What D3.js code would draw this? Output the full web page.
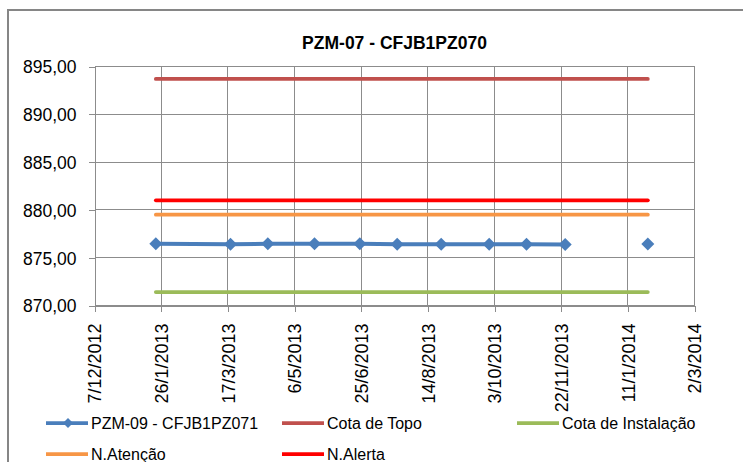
<!DOCTYPE html>
<html>
<head>
<meta charset="utf-8">
<script src="https://cdn.jsdelivr.net/npm/d3@7"></script>
<style>
  html, body { margin: 0; padding: 0; background: #fff; }
  svg { display: block; font-family: "Liberation Sans", Arial, sans-serif; }
</style>
</head>
<body>
<div id="chart"></div>
<script>
// readings of PZM-09 (null = missing reading, breaks the line)
const readingDates = ["2013-01-22", "2013-03-19", "2013-04-16", "2013-05-21", "2013-06-24",
    "2013-07-22", "2013-08-24", "2013-09-29", "2013-10-27", "2013-11-25", "2013-12-26", "2014-01-26"];
const pzm09 = [876.46, 876.41, 876.45, 876.46, 876.45, 876.41, 876.40, 876.41, 876.40, 876.39, null, 876.42];

// reference levels
const cotaTopo = 893.7;
const cotaInstalacao = 871.4;
const nAtencao = 879.5;
const nAlerta = 881.0;

const xTickLabels = ["7/12/2012", "26/1/2013", "17/3/2013", "6/5/2013", "25/6/2013",
    "14/8/2013", "3/10/2013", "22/11/2013", "11/1/2014", "2/3/2014"];
const yTicks = [870, 875, 880, 885, 890, 895];

const title = "PZM-07 - CFJB1PZ070";

const width = 743, height = 462;
const plot = { left: 94.5, right: 694.5, top: 66.5, bottom: 305.5 };

const parseDMY = d3.utcParse("%d/%m/%Y");
const parseISO = d3.utcParse("%Y-%m-%d");
const fmtDMY = d3.utcFormat("%-d/%-m/%Y");
const fmtY = v => d3.format(".2f")(v).replace(".", ",");

const tickDates = xTickLabels.map(parseDMY);
const series = readingDates.map((d, i) => ({ date: parseISO(d), value: pzm09[i] }));
const firstDate = series[0].date;
const lastDate = series[series.length - 1].date;

const levels = [
    { name: "Cota de Topo", value: cotaTopo, color: "#C0504D" },
    { name: "Cota de Instalação", value: cotaInstalacao, color: "#9BBB59" },
    { name: "N.Atenção", value: nAtencao, color: "#F79646" },
    { name: "N.Alerta", value: nAlerta, color: "#FF0000" }
];

const x = d3.scaleUtc()
    .domain([tickDates[0], tickDates[tickDates.length - 1]])
    .range([plot.left, plot.right]);

const y = d3.scaleLinear()
    .domain([870, 895])
    .range([plot.bottom, plot.top]);

const svg = d3.select("#chart")
    .append("svg")
    .attr("width", width)
    .attr("height", height);

svg.append("rect")
    .attr("width", width)
    .attr("height", height)
    .attr("fill", "#fff");

// outer chart border
svg.append("rect")
    .attr("x", 8)
    .attr("y", 10)
    .attr("width", width + 20)
    .attr("height", height + 20)
    .attr("fill", "none")
    .attr("stroke", "#868686")
    .attr("stroke-width", 2);

// title
svg.append("text")
    .attr("x", (plot.left + plot.right) / 2)
    .attr("y", 49)
    .attr("text-anchor", "middle")
    .style("font-size", "17.5px")
    .style("font-weight", "bold")
    .text(title);

// gridlines
const grid = svg.append("g")
    .attr("stroke", "#8c8c8c")
    .attr("stroke-width", 1)
    .attr("shape-rendering", "crispEdges");

grid.selectAll("line.h")
    .data(yTicks)
    .join("line")
    .attr("x1", plot.left)
    .attr("x2", plot.right)
    .attr("y1", d => y(d))
    .attr("y2", d => y(d));

grid.selectAll("line.v")
    .data(tickDates.slice(1))
    .join("line")
    .attr("x1", d => x(d))
    .attr("x2", d => x(d))
    .attr("y1", plot.top)
    .attr("y2", plot.bottom);

// y axis
const yAxis = svg.append("g")
    .attr("transform", `translate(${plot.left},0)`)
    .call(d3.axisLeft(y).tickValues(yTicks).tickFormat(fmtY).tickSize(6).tickPadding(12));
yAxis.selectAll("text")
    .style("font-size", "17.5px")
    .attr("fill", "#000")
    .attr("dy", "0.36em");

// x axis
const xAxis = svg.append("g")
    .attr("transform", `translate(0,${plot.bottom})`)
    .call(d3.axisBottom(x).tickValues(tickDates).tickFormat(fmtDMY).tickSize(6));
xAxis.selectAll("text")
    .style("font-size", "18px")
    .attr("fill", "#000")
    .attr("text-anchor", "end")
    .attr("transform", "rotate(-90)")
    .attr("x", -18)
    .attr("y", 0)
    .attr("dy", "0.36em");

[yAxis, xAxis].forEach(a => {
    a.select(".domain").attr("stroke", "#8c8c8c").attr("shape-rendering", "crispEdges");
    a.selectAll(".tick line").attr("stroke", "#8c8c8c").attr("shape-rendering", "crispEdges");
});

// reference level lines
svg.append("g")
    .selectAll("line")
    .data(levels)
    .join("line")
    .attr("x1", x(firstDate))
    .attr("x2", x(lastDate))
    .attr("y1", d => y(d.value))
    .attr("y2", d => y(d.value))
    .attr("stroke", d => d.color)
    .attr("stroke-width", 3.75)
    .attr("stroke-linecap", "round");

// PZM-09 series
const line = d3.line()
    .defined(d => d.value !== null)
    .x(d => x(d.date))
    .y(d => y(d.value));

svg.append("path")
    .datum(series)
    .attr("d", line)
    .attr("fill", "none")
    .attr("stroke", "#4A7EBB")
    .attr("stroke-width", 4)
    .attr("stroke-linejoin", "round")
    .attr("stroke-linecap", "round");

const diamond = r => `M0,${-r}L${r},0L0,${r}L${-r},0Z`;

svg.append("g")
    .selectAll("path")
    .data(series.filter(d => d.value !== null))
    .join("path")
    .attr("transform", d => `translate(${x(d.date)},${y(d.value)})`)
    .attr("d", diamond(6.5))
    .attr("fill", "#4A7EBB");

// legend
const legendItems = [
    { name: "PZM-09 - CFJB1PZ071", color: "#4A7EBB", marker: true, lx: 46, row: 0 },
    { name: levels[0].name, color: levels[0].color, lx: 282, row: 0 },
    { name: levels[1].name, color: levels[1].color, lx: 517, row: 0 },
    { name: levels[2].name, color: levels[2].color, lx: 46, row: 1 },
    { name: levels[3].name, color: levels[3].color, lx: 282, row: 1 }
];

const legend = svg.append("g")
    .selectAll("g")
    .data(legendItems)
    .join("g")
    .attr("transform", d => `translate(${d.lx},${423 + d.row * 31})`);

legend.append("line")
    .attr("x1", 0)
    .attr("x2", 42)
    .attr("stroke", d => d.color)
    .attr("stroke-width", 3.75);

legend.filter(d => d.marker)
    .append("path")
    .attr("transform", "translate(22,0)")
    .attr("d", diamond(5))
    .attr("fill", d => d.color);

legend.append("text")
    .attr("x", 45)
    .attr("dy", "0.36em")
    .style("font-size", "16px")
    .text(d => d.name);
</script>
</body>
</html>
